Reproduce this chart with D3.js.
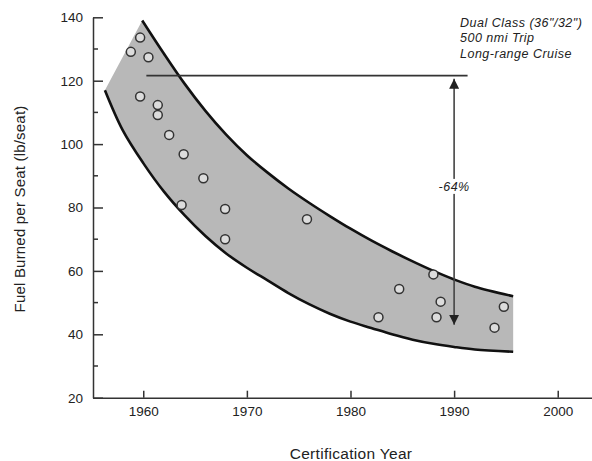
<!DOCTYPE html>
<html>
<head>
<meta charset="utf-8">
<script src="https://cdn.jsdelivr.net/npm/d3@7"></script>
<style>
  body { margin: 0; background: #fff; }
  svg { display: block; font-family: "Liberation Sans", Arial, sans-serif; }
  .axis path, .axis line { stroke: #333; stroke-width: 1.5; }
  .axis text { font-size: 13.5px; fill: #222; }
</style>
</head>
<body>
<div id="chart-area"></div>
<script>

// aircraft points (certification year, fuel per seat)
let pointYears = [1958.8, 1959.7, 1960.5, 1959.7, 1961.4, 1961.4, 1962.5, 1963.9, 1963.7,
                  1965.8, 1967.9, 1967.9, 1975.8, 1982.7, 1984.7, 1988.0, 1988.3, 1988.7,
                  1993.9, 1994.8];
let pointFuel  = [129.1, 133.6, 127.4, 115.0, 112.3, 109.2, 102.9, 96.8, 80.8,
                  89.2, 79.5, 70.0, 76.3, 45.4, 54.3, 58.9, 45.4, 50.3,
                  42.1, 48.7];

// band edges
let upperYears = [1959.9, 1962, 1964, 1966, 1968, 1970, 1972, 1974, 1976, 1978, 1980, 1982, 1984, 1986, 1988, 1990, 1992, 1995.7];
let upperFuel  = [139, 128.5, 119, 110.5, 103, 96.5, 91, 86, 81.5, 77.3, 73.3, 69.6, 66.2, 63, 60, 57.3, 55, 52];
let lowerYears = [1956.3, 1958, 1960, 1962, 1964, 1966, 1968, 1970, 1972, 1974, 1976, 1978, 1980, 1982, 1984, 1986, 1988, 1990, 1992, 1995.7];
let lowerFuel  = [117, 104.5, 94, 85, 77.5, 71, 65.5, 61, 57, 53, 49.5, 46.5, 44, 42, 40, 38.3, 37, 36, 35.2, 34.5];

// reference line + arrow
let refLine = {from: 1960.3, to: 1991.3, fuel: 121.6};
let arrowYear = 1990, arrowTop = 120.6, arrowBottom = 43;
let arrowLabel = "-64%";

let xTicks = [1960, 1970, 1980, 1990, 2000];
let yTicks = [20, 40, 60, 80, 100, 120, 140];
let yMinorTicks = [30, 50, 70, 90, 110, 130];

let noteLines = ["Dual Class (36\"/32\")", "500 nmi Trip", "Long-range Cruise"];

let width = 592, height = 461;

let svg = d3.select("#chart-area").append("svg")
    .attr("width", width)
    .attr("height", height);

let x = d3.scaleLinear().domain([1955.15, 2003.5]).range([93, 594]);
let y = d3.scaleLinear().domain([20, 140]).range([397.7, 17.3]);

// band
let line = d3.line()
    .x(d => x(d[0]))
    .y(d => y(d[1]))
    .curve(d3.curveCatmullRom.alpha(0.5));

let upperPts = upperYears.map((yr, i) => [yr, upperFuel[i]]);
let lowerPts = lowerYears.map((yr, i) => [yr, lowerFuel[i]]);
let lowerRev = lowerPts.slice().reverse();

let bandPath = line(upperPts) + "L" + line(lowerRev).slice(1) + "Z";

svg.append("path")
    .attr("d", bandPath)
    .attr("fill", "#b8b8b8")
    .attr("stroke", "none");

svg.append("path")
    .attr("d", line(upperPts))
    .attr("fill", "none")
    .attr("stroke", "#111")
    .attr("stroke-width", 2.6);

svg.append("path")
    .attr("d", line(lowerPts))
    .attr("fill", "none")
    .attr("stroke", "#111")
    .attr("stroke-width", 2.6);

// axes
let xAxis = d3.axisBottom(x)
    .tickValues(xTicks)
    .tickFormat(d3.format("d"))
    .tickSizeInner(-7)
    .tickSizeOuter(0)
    .tickPadding(9);

let yAxis = d3.axisLeft(y)
    .tickValues(yTicks)
    .tickSizeInner(-10)
    .tickSizeOuter(0)
    .tickPadding(10);

svg.append("g")
    .attr("class", "axis x-axis")
    .attr("transform", "translate(0," + y(20) + ")")
    .call(xAxis);

let yAxisGroup = svg.append("g")
    .attr("class", "axis y-axis")
    .attr("transform", "translate(" + x.range()[0] + ",0)")
    .call(yAxis);

yAxisGroup.selectAll(".minor")
    .data(yMinorTicks)
    .enter().append("line")
    .attr("class", "minor")
    .attr("x1", 0)
    .attr("x2", 5)
    .attr("y1", d => y(d))
    .attr("y2", d => y(d));

// axis titles
svg.append("text")
    .attr("x", 351)
    .attr("y", 459)
    .attr("text-anchor", "middle")
    .attr("font-size", 15.5)
    .attr("letter-spacing", 0.3)
    .attr("fill", "#222")
    .text("Certification Year");

svg.append("text")
    .attr("transform", "translate(25," + 209 + ") rotate(-90)")
    .attr("text-anchor", "middle")
    .attr("font-size", 15)
    .attr("letter-spacing", 0.2)
    .attr("fill", "#222")
    .text("Fuel Burned per Seat (lb/seat)");

// reference line and arrow
svg.append("defs").append("marker")
    .attr("id", "head")
    .attr("viewBox", "0 0 10 10")
    .attr("refX", 10)
    .attr("refY", 5)
    .attr("markerWidth", 10)
    .attr("markerHeight", 10)
    .attr("markerUnits", "userSpaceOnUse")
    .attr("orient", "auto-start-reverse")
    .append("path")
    .attr("d", "M0,0L10,5L0,10Z")
    .attr("fill", "#222");

svg.append("line")
    .attr("x1", x(refLine.from))
    .attr("x2", x(refLine.to))
    .attr("y1", y(refLine.fuel))
    .attr("y2", y(refLine.fuel))
    .attr("stroke", "#333")
    .attr("stroke-width", 1.6);

svg.append("line")
    .attr("x1", x(arrowYear))
    .attr("x2", x(arrowYear))
    .attr("y1", y(arrowTop))
    .attr("y2", y(arrowBottom))
    .attr("stroke", "#444")
    .attr("stroke-width", 1.6)
    .attr("marker-start", "url(#head)")
    .attr("marker-end", "url(#head)");

let labelY = y(86.5);
svg.append("rect")
    .attr("x", x(arrowYear) - 18)
    .attr("y", labelY - 8)
    .attr("width", 36)
    .attr("height", 15)
    .attr("fill", "#fff");

svg.append("text")
    .attr("x", x(arrowYear))
    .attr("y", labelY + 4)
    .attr("text-anchor", "middle")
    .attr("font-size", 12.5)
    .attr("letter-spacing", 0.5)
    .attr("font-style", "italic")
    .attr("fill", "#222")
    .text(arrowLabel);

// points
svg.selectAll(".pt")
    .data(pointYears)
    .enter().append("circle")
    .attr("class", "pt")
    .attr("cx", d => x(d))
    .attr("cy", (d, i) => y(pointFuel[i]))
    .attr("r", 4.5)
    .attr("fill", "#dcdcdc")
    .attr("stroke", "#333")
    .attr("stroke-width", 1.5);

// note
svg.append("g").selectAll("text")
    .data(noteLines)
    .enter().append("text")
    .attr("x", 460)
    .attr("y", (d, i) => 27 + i * 15.3)
    .attr("font-size", 12.5)
    .attr("letter-spacing", 0.5)
    .attr("font-style", "italic")
    .attr("fill", "#222")
    .text(d => d);

</script>
</body>
</html>
